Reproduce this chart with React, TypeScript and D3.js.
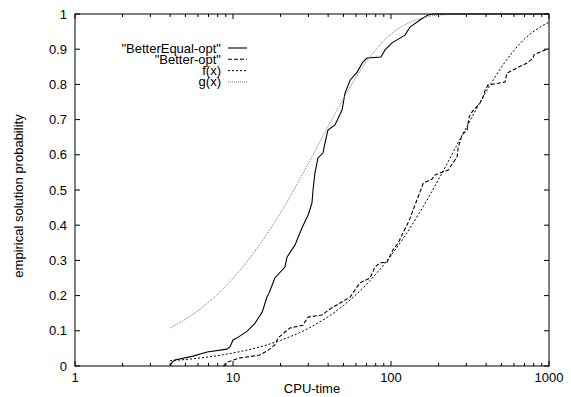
import React from "react";
import * as d3 from "d3";

// ---- data ----
const betterEqualX = [4.0, 4.1, 4.29, 5.58, 6.85, 9.17, 9.57, 10.0, 10.8, 12.3, 13.8, 14.6, 15.3, 16.4, 16.9, 17.9, 18.4, 21.3, 22.0, 24.7, 27.3, 29.9, 31.6, 32.1, 33.0, 34.5, 37.1, 38.2, 39.9, 44.2, 49.0, 51.2, 55.1, 61.0, 66.5, 70.5, 86.4, 91.6, 101.4, 122.6, 131.9, 152.6, 171.4, 185, 1000];
const betterEqualY = [0.0, 0.01, 0.017, 0.028, 0.04, 0.048, 0.054, 0.074, 0.082, 0.099, 0.122, 0.139, 0.153, 0.196, 0.207, 0.236, 0.25, 0.281, 0.31, 0.344, 0.392, 0.429, 0.463, 0.5, 0.548, 0.591, 0.605, 0.634, 0.67, 0.685, 0.727, 0.776, 0.812, 0.835, 0.864, 0.875, 0.878, 0.898, 0.918, 0.94, 0.963, 0.983, 0.997, 1.0, 1.0];

const betterX = [8.7, 9.17, 11.1, 14.8, 16.7, 18.4, 19.3, 22.9, 27.7, 29.9, 36.6, 41.1, 47.6, 55.1, 60.9, 63.6, 73.6, 79.2, 85.2, 94.3, 103, 111, 119, 128, 132, 138, 146, 157, 160, 182, 190, 230, 247, 262, 266, 281, 303, 312, 326, 366, 382, 394, 411, 527, 542, 592, 726, 793, 804, 944, 986];
const betterY = [0.0, 0.011, 0.023, 0.031, 0.045, 0.06, 0.08, 0.108, 0.116, 0.139, 0.145, 0.162, 0.179, 0.196, 0.224, 0.236, 0.25, 0.281, 0.293, 0.295, 0.33, 0.349, 0.378, 0.406, 0.42, 0.443, 0.472, 0.509, 0.52, 0.531, 0.543, 0.557, 0.577, 0.594, 0.619, 0.656, 0.67, 0.707, 0.722, 0.747, 0.764, 0.784, 0.798, 0.807, 0.832, 0.841, 0.861, 0.875, 0.884, 0.898, 0.903];

const fX = [4, 6, 10, 15, 20, 30, 50, 70, 100, 150, 200, 300, 400, 500, 700, 1000];
const fY = [0.015, 0.022, 0.037, 0.055, 0.073, 0.107, 0.172, 0.232, 0.314, 0.432, 0.53, 0.678, 0.779, 0.849, 0.929, 0.977];

const gX = [4, 5, 7, 10, 15, 20, 30, 40, 50, 70, 100, 150, 200, 250, 300];
const gY = [0.108, 0.133, 0.181, 0.249, 0.349, 0.435, 0.576, 0.681, 0.76, 0.865, 0.943, 0.986, 0.997, 0.999, 1.0];

const xMajorTicks = [1, 10, 100, 1000];
const xTickLabels = ["1", "10", "100", "1000"];
const yTicks = [0, 0.1, 0.2, 0.3, 0.4, 0.5, 0.6, 0.7, 0.8, 0.9, 1];
const yTickLabels = ["0", "0.1", "0.2", "0.3", "0.4", "0.5", "0.6", "0.7", "0.8", "0.9", "1"];

const legendLabels = ['"BetterEqual-opt"', '"Better-opt"', "f(x)", "g(x)"];

const W = 571;
const H = 397;
const L = 75, R = 549, T = 14, B = 366;
const FONT = "'Liberation Sans', Arial, Helvetica, sans-serif";

export default function App() {
  const x = d3.scaleLog().domain([1, 1000]).range([L, R]);
  const y = d3.scaleLinear().domain([0, 1]).range([B, T]);

  const lin = d3.line<[number, number]>().x(d => x(d[0])).y(d => y(d[1])).curve(d3.curveLinear);
  const smooth = d3.line<[number, number]>().x(d => x(d[0])).y(d => y(d[1])).curve(d3.curveMonotoneX);

  const zip = (a: number[], b: number[]) => a.map((v, i) => [v, b[i]] as [number, number]);

  const series = [
    { d: lin(zip(betterEqualX, betterEqualY)), dash: "none", color: "#000", w: 1.1 },
    { d: lin(zip(betterX, betterY)), dash: "4,2", color: "#000", w: 1.1 },
    { d: smooth(zip(fX, fY)), dash: "2,2", color: "#000", w: 1 },
    { d: smooth(zip(gX, gY)), dash: "1,1", color: "#777", w: 1 },
  ];

  const minor: number[] = [];
  for (const dec of [1, 10, 100]) for (let k = 2; k <= 9; k++) minor.push(dec * k);

  return (
    <svg width={W} height={H} style={{ position: "absolute", left: 0, top: 0, background: "#fff" }}>
      <rect x={0} y={0} width={W} height={H} fill="#fff" />
      {/* curves */}
      {series.map((s, i) => (
        <path key={i} d={s.d || ""} fill="none" stroke={s.color} strokeWidth={s.w} strokeDasharray={s.dash} />
      ))}
      {/* frame */}
      <rect x={L} y={T} width={R - L} height={B - T} fill="none" stroke="#000" strokeWidth={1} />
      {/* y ticks */}
      {yTicks.map((t, i) => (
        <g key={"y" + i}>
          <line x1={L} x2={L + 5} y1={y(t)} y2={y(t)} stroke="#000" />
          <line x1={R} x2={R - 5} y1={y(t)} y2={y(t)} stroke="#000" />
          <text x={67} y={y(t)} dy="0.35em" textAnchor="end" fontFamily={FONT} fontSize={13}>{yTickLabels[i]}</text>
        </g>
      ))}
      {/* x ticks */}
      {xMajorTicks.map((t, i) => (
        <g key={"x" + i}>
          <line x1={x(t)} x2={x(t)} y1={B} y2={B - 5} stroke="#000" />
          <line x1={x(t)} x2={x(t)} y1={T} y2={T + 5} stroke="#000" />
          <text x={x(t)} y={377} dy="0.35em" textAnchor="middle" fontFamily={FONT} fontSize={13}>{xTickLabels[i]}</text>
        </g>
      ))}
      {minor.map((t, i) => (
        <g key={"m" + i}>
          <line x1={x(t)} x2={x(t)} y1={B} y2={B - 3} stroke="#000" />
          <line x1={x(t)} x2={x(t)} y1={T} y2={T + 3} stroke="#000" />
        </g>
      ))}
      {/* axis titles */}
      <text x={312} y={388} dy="0.35em" textAnchor="middle" fontFamily={FONT} fontSize={13}>CPU-time</text>
      <text transform={`translate(18,196) rotate(-90)`} textAnchor="middle" dy="0.35em" fontFamily={FONT} fontSize={13}>empirical solution probability</text>
      {/* legend */}
      {legendLabels.map((lab, i) => {
        const ly = 48 + i * 11.3;
        const s = series[i];
        return (
          <g key={"l" + i}>
            <text x={221} y={ly} dy="0.35em" textAnchor="end" fontFamily={FONT} fontSize={13}>{lab}</text>
            <line x1={228} x2={247} y1={ly} y2={ly} stroke={s.color} strokeWidth={s.w} strokeDasharray={s.dash} />
          </g>
        );
      })}
    </svg>
  );
}
